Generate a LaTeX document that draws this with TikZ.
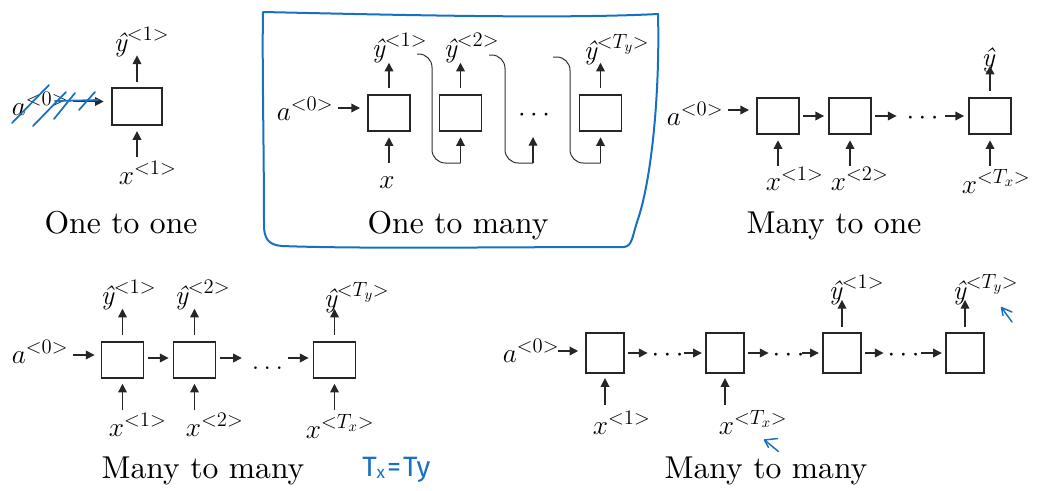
\RequirePackage{fix-cm}
\documentclass[tikz,border=0pt]{standalone}
\usepackage{fontspec}
\newfontfamily\handfont{Fira Sans}
\newfontfamily\capfont{lmroman10-regular.otf}
\usetikzlibrary{arrows.meta,calc}
\DeclareMathSizes{20.5}{20.5}{15.5}{11}
\definecolor{penblue}{RGB}{22,112,196}
\newcommand{\yhat}{\mbox{\itshape ŷ}}
\newcommand{\yh}[1]{$\yhat^{<#1>}$}
\newcommand{\xin}[1]{$x^{<#1>}$}
\newcommand{\azero}{$a^{<0>}$}
\begin{document}
\begin{tikzpicture}[x=0.75pt,y=-0.75pt,
 cell/.style={draw=black!85, line width=1.4pt, minimum width=31.5pt, minimum height=27.5pt, inner sep=0pt},
 cellb/.style={cell, minimum width=29pt, minimum height=29.5pt},
 arr/.style={draw=black!85, line width=1pt, -{Triangle[length=6.5pt,width=6.5pt]}},
 lab/.style={inner sep=2pt, anchor=base west, font=\fontsize{20.5}{24}\selectfont},
 captxt/.style={inner sep=0pt, anchor=base, font=\capfont\fontsize{23.7}{28}\selectfont},
 dts/.style={inner sep=0pt, font=\fontsize{20.5}{24}\selectfont},
 curve/.style={draw=black!80, line width=0.75pt, rounded corners=10pt},
 pen/.style={draw=penblue, line width=1.3pt, line cap=round, line join=round}]
\useasboundingbox (0,0) rectangle (1045,490);

% ---------- One to one
\node[cell, minimum width=38pt, minimum height=28pt] (b11) at (137,106.5) {};
\node[lab] (a01) at (9,115) {\azero};
\node[lab] (y11) at (111,51) {\yh{1}};
\node[lab] (x11) at (116,184) {\xin{1}};
\node[captxt] (c1) at (121,233) {One to one};
\draw[arr, shorten <=1.5pt, shorten >=5.3pt] ($(a01.east |- b11.west)+(0,-5)$) -- ($(b11.west)+(0,-5)$);
\draw[arr] ($(b11.north)+(0,-4.5)$) -- ($(b11.north)+(0,-31.5)$);
\draw[arr] ($(b11.south)+(0,31)$) -- ($(b11.south)+(0,5)$);
\draw[pen] (12,123) -- (49,85);
\draw[pen] (33,126) -- (66,92);
\draw[pen] (54,119) -- (75,93);
\draw[pen] (79,110) -- (95,92);
\draw[pen] (55,101) -- (98,100);

% ---------- One to many
\draw[pen, line width=1.5pt] (263,12) .. controls (400,15) and (560,19) .. (658,14)
  .. controls (660,90) and (652,180) .. (637,222)
  .. controls (632,238) and (632,246) .. (624,247)
  .. controls (500,247) and (360,249) .. (282,246)
  .. controls (268,245) and (264,238) .. (264,225)
  .. controls (264,150) and (262,60) .. (263,12);
\node[cell] (b21) at (389,113) {};
\node[cell] (b22) at (460.5,113) {};
\node[cell] (b23) at (600.5,113) {};
\node[lab] (a02) at (274,120) {\azero};
\node[lab] (y21) at (369,57) {\yh{1}};
\node[lab] (y22) at (441,57) {\yh{2}};
\node[lab] (y23) at (581,59) {\yh{T_y}};
\node[lab, anchor=base] (x21) at (387,188) {$x$};
\node[dts] (d2) at (534,115) {$\cdots$};
\node[captxt] (c2) at (458,233) {One to many};
\draw[arr, shorten <=1.2pt, shorten >=5.3pt] ($(a02.east |- b21.west)+(0,-5)$) -- ($(b21.west)+(0,-5)$);
\foreach \b in {b21,b22,b23}{
  \draw[arr] ($(\b.north)+(0,-5.5)$) -- ($(\b.north)+(0,-31)$);
}
\draw[arr] ($(b21.south)+(0,31)$) -- ($(b21.south)+(0,5)$);
\coordinate (s1) at (417,54);
\coordinate (s2) at (489,55);
\coordinate (s3) at (553,57);
\coordinate (k1) at (460.5,163);
\coordinate (k2) at (533,163);
\coordinate (k3) at (600.5,163);
\coordinate (t2) at (533,137);
\draw[curve] (s1) -- (432,54) -- (432,163) -- (k1);
\draw[curve] (s2) -- (505,55) -- (505,163) -- (k2);
\draw[curve] (s3) -- (570,57) -- (570,163) -- (k3);
\draw[arr] (k1) -- ($(b22.south)+(0,5)$);
\draw[arr] (k2) -- (t2);
\draw[arr] (k3) -- ($(b23.south)+(0,5)$);

% ---------- Many to one
\node[cell] (b31) at (778,116) {};
\node[cell] (b32) at (850,116) {};
\node[cell] (b33) at (990,116) {};
\node[lab] (a03) at (664,125) {\azero};
\node[lab, anchor=base] (y33) at (988,66) {\yhat};
\node[lab] (x31) at (763,190) {\xin{1}};
\node[lab] (x32) at (828,190) {\xin{2}};
\node[lab] (x33) at (959,193) {\xin{T_x}};
\node[dts] (d3) at (922.5,118) {$\cdots$};
\node[captxt] (c3) at (834,233) {Many to one};
\draw[arr, shorten <=1.2pt, shorten >=5.3pt] ($(a03.east |- b31.west)+(0,-6)$) -- ($(b31.west)+(0,-6)$);
\draw[arr, shorten <=2.5pt, shorten >=3pt] (b31.east) -- (b32.west);
\draw[arr, shorten <=2.5pt, shorten >=7.3pt] (b32.east) -- (d3.west |- b32.east);
\draw[arr, shorten <=5pt, shorten >=3pt] (d3.east |- b33.west) -- (b33.west);
\draw[arr] ($(b33.north)+(0,-5.5)$) -- ($(b33.north)+(0,-31)$);
\foreach \b in {b31,b32,b33}{
  \draw[arr] ($(\b.south)+(0,31)$) -- ($(\b.south)+(0,5)$);
}

% ---------- Many to many (equal lengths)
\node[cell] (b41) at (122.5,360) {};
\node[cell] (b42) at (194.5,360) {};
\node[cell] (b43) at (334.5,360) {};
\node[lab] (a04) at (9,363) {\azero};
\node[lab] (y41) at (98,304) {\yh{1}};
\node[lab] (y42) at (172,304) {\yh{2}};
\node[lab] (y43) at (321,307) {\yh{T_y}};
\node[lab] (x41) at (106,436) {\xin{1}};
\node[lab] (x42) at (183,436) {\xin{2}};
\node[lab] (x43) at (303,438) {\xin{T_x}};
\node[dts, anchor=base] (d4) at (267.5,369) {$\ldots$};
\node[captxt] (c4) at (203,478) {Many to many};
\node[text=penblue, font=\handfont\fontsize{21}{24}\selectfont, anchor=base west, inner sep=0pt] (note) at (362,476) {T\raisebox{-1.5pt}{\fontsize{13}{14}\selectfont x}\kern1.5pt=\kern1.5pt Ty};
\draw[arr, shorten <=1.2pt, shorten >=4.5pt] ($(a04.east |- b41.west)+(0,-5)$) -- ($(b41.west)+(0,-5)$);
\draw[arr, shorten <=2.5pt, shorten >=3pt] ($(b41.east)+(0,-2)$) -- ($(b42.west)+(0,-2)$);
\draw[arr, shorten <=2.5pt, shorten >=7.3pt] ($(b42.east)+(0,-2)$) -- ($(d4.west |- b42.east)+(0,-2)$);
\draw[arr, shorten <=3.6pt, shorten >=3pt] ($(d4.east |- b43.west)+(0,-2)$) -- ($(b43.west)+(0,-2)$);
\foreach \b in {b41,b42,b43}{
  \draw[arr] ($(\b.north)+(0,-6)$) -- ($(\b.north)+(0,-32)$);
  \draw[arr] ($(\b.south)+(0,31)$) -- ($(\b.south)+(0,4.5)$);
}

% ---------- Many to many (different lengths)
\node[cellb] (b51) at (605,353) {};
\node[cellb] (b52) at (725,353) {};
\node[cellb] (b53) at (842,353) {};
\node[cellb] (b54) at (965,353) {};
\node[lab] (a05) at (500,362) {\azero};
\node[lab] (y53) at (826,299) {\yh{1}};
\node[lab] (y54) at (950,299) {\yh{T_y}};
\node[lab] (x51) at (590,434) {\xin{1}};
\node[lab] (x52) at (716,434) {\xin{T_x}};
\node[dts] (d51) at (667.5,355) {$\cdots$};
\node[dts] (d52) at (788.5,355) {$\cdots$};
\node[dts] (d53) at (903.5,355) {$\cdots$};
\node[captxt] (c5) at (766,478) {Many to many};
\draw[arr, shorten <=-3.5pt, shorten >=4.9pt] ($(a05.east |- b51.west)+(0,-2)$) -- ($(b51.west)+(0,-2)$);
\draw[arr, shorten <=2.2pt, shorten >=2.8pt] (b51.east) -- (d51.west |- b51.east);
\draw[arr, shorten <=0pt, shorten >=2.2pt] (d51.east |- b52.west) -- (b52.west);
\draw[arr, shorten <=2.2pt, shorten >=2.8pt] (b52.east) -- (d52.west |- b52.east);
\draw[arr, shorten <=-2pt, shorten >=2.2pt] (d52.east |- b53.west) -- (b53.west);
\draw[arr, shorten <=2.2pt, shorten >=2.8pt] (b53.east) -- (d53.west |- b53.east);
\draw[arr, shorten <=1.3pt, shorten >=2.2pt] (d53.east |- b54.west) -- (b54.west);
\foreach \b in {b53,b54}{
  \draw[arr] ($(\b.north)+(0,-5.5)$) -- ($(\b.north)+(0,-32.5)$);
}
\foreach \b in {b51,b52}{
  \draw[arr] ($(\b.south)+(0,31.5)$) -- ($(\b.south)+(0,4.5)$);
}
\draw[pen, line width=1.1pt] (778.5,451.5) -- (764.5,440) -- (777.5,438.5);
\draw[pen, line width=1.1pt] (764.5,440) -- (768.5,447.5);
\draw[pen, line width=1.1pt] (1012,322) -- (1001.5,307.5) -- (1012,312);
\draw[pen, line width=1.1pt] (1001.5,307.5) -- (1003,315.5);
\end{tikzpicture}
\end{document}
